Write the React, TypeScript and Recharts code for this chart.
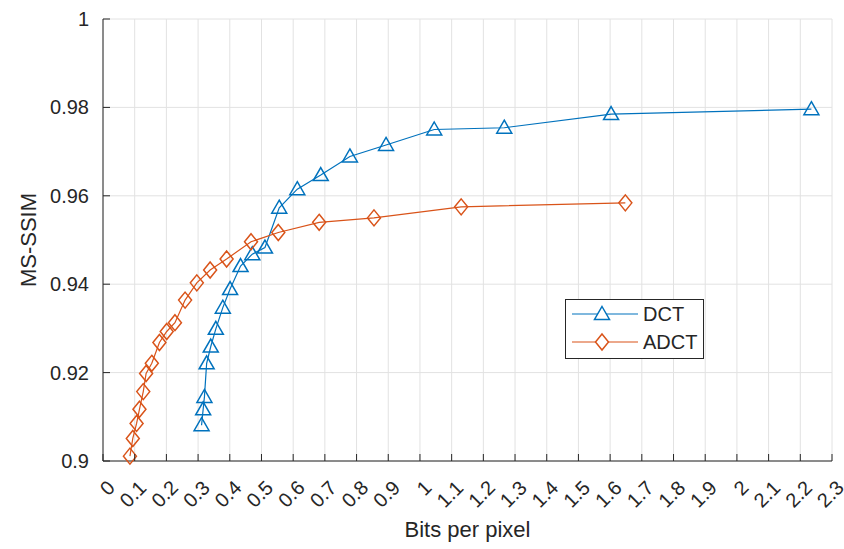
import { ScatterChart, Scatter, XAxis, YAxis, CartesianGrid, Legend } from 'recharts';

// Rate (bits per pixel) vs MS-SSIM for the two transforms
const dctRate = [0.311, 0.316, 0.32, 0.327, 0.34, 0.356, 0.378, 0.401, 0.434, 0.471, 0.511, 0.556, 0.613, 0.687, 0.779, 0.893, 1.045, 1.266, 1.603, 2.235];
const dctScore = [0.9081, 0.9117, 0.9145, 0.9221, 0.9259, 0.9299, 0.9347, 0.9389, 0.9441, 0.9468, 0.9483, 0.9573, 0.9615, 0.9647, 0.9689, 0.9715, 0.975, 0.9754, 0.9785, 0.9796];

const adctRate = [0.085, 0.094, 0.106, 0.115, 0.127, 0.136, 0.154, 0.178, 0.201, 0.227, 0.259, 0.296, 0.338, 0.39, 0.467, 0.553, 0.682, 0.855, 1.13, 1.648];
const adctScore = [0.9011, 0.9051, 0.9085, 0.9117, 0.9157, 0.9198, 0.9221, 0.9268, 0.9293, 0.9313, 0.9364, 0.9403, 0.9432, 0.9457, 0.9496, 0.9517, 0.954, 0.955, 0.9575, 0.9584];

const xTicks = [0, 0.1, 0.2, 0.3, 0.4, 0.5, 0.6, 0.7, 0.8, 0.9, 1, 1.1, 1.2, 1.3, 1.4, 1.5, 1.6, 1.7, 1.8, 1.9, 2, 2.1, 2.2, 2.3];
const yTicks = [0.9, 0.92, 0.94, 0.96, 0.98, 1];

const BLUE = '#0072BD';
const ORANGE = '#D95319';
const INK = '#262626';
const FONT = '"Liberation Sans", Arial, sans-serif';

const dctData = dctRate.map((x, i) => ({ x, y: dctScore[i] }));
const adctData = adctRate.map((x, i) => ({ x, y: adctScore[i] }));

const trianglePts = (cx: number, cy: number) =>
  `${cx},${cy - 7.5} ${cx + 7.5},${cy + 5.5} ${cx - 7.5},${cy + 5.5}`;
const diamondPts = (cx: number, cy: number) =>
  `${cx},${cy - 8} ${cx + 6.5},${cy} ${cx},${cy + 8} ${cx - 6.5},${cy}`;

const Triangle = (props: any) => (
  <polygon points={trianglePts(props.cx, props.cy)} fill="none" stroke={BLUE} strokeWidth={1.5} />
);
const Diamond = (props: any) => (
  <polygon points={diamondPts(props.cx, props.cy)} fill="none" stroke={ORANGE} strokeWidth={1.5} />
);

const series = [
  { name: 'DCT', color: BLUE, pts: trianglePts },
  { name: 'ADCT', color: ORANGE, pts: diamondPts },
];

// inward tick marks + rotated labels, MATLAB style
const XTick = ({ x, y, payload }: any) => {
  const ax = x + 13;
  const ay = y + 28;
  return (
    <g>
      <line x1={x} y1={y} x2={x} y2={y - 7} stroke={INK} />
      <text
        x={ax}
        y={ay}
        transform={`rotate(-45 ${ax} ${ay})`}
        textAnchor="end"
        fontSize={20}
        fontFamily={FONT}
        fill={INK}
      >
        {String(payload.value)}
      </text>
    </g>
  );
};

const YTick = ({ x, y, payload }: any) => (
  <g>
    <line x1={x} y1={y} x2={x + 7} y2={y} stroke={INK} />
    <text x={x - 14} y={y} dy={7} textAnchor="end" fontSize={20} fontFamily={FONT} fill={INK}>
      {String(payload.value)}
    </text>
  </g>
);

const LegendBox = () => (
  <div style={{ width: 139, height: 60, border: `1px solid ${INK}`, background: '#fff', boxSizing: 'border-box' }}>
    <svg width={137} height={58} style={{ display: 'block' }}>
      {series.map((s, i) => {
        const cy = 14 + i * 28;
        return (
          <g key={s.name}>
            <line x1={6} y1={cy} x2={72} y2={cy} stroke={s.color} strokeWidth={1.2} />
            <polygon points={s.pts(36, cy)} fill="#fff" stroke={s.color} strokeWidth={1.5} />
            <text x={77} y={cy + 7} fontSize={20} fontFamily={FONT} fill={INK}>
              {s.name}
            </text>
          </g>
        );
      })}
    </svg>
  </div>
);

export default function App() {
  return (
    <div style={{ position: 'absolute', left: 0, top: 0, background: '#fff' }}>
      <ScatterChart width={844} height={549} margin={{ top: 19, right: 12, bottom: 0, left: 0 }}>
        <CartesianGrid stroke="#e2e2e2" />
        <XAxis
          type="number"
          dataKey="x"
          domain={[0, 2.3]}
          ticks={xTicks}
          interval={0}
          height={88}
          tickSize={0}
          tickMargin={0}
          tickLine={false}
          tick={<XTick />}
          axisLine={{ stroke: INK }}
          label={{ value: 'Bits per pixel', position: 'insideBottom', offset: 12, fill: INK, fontSize: 22, fontFamily: FONT }}
        />
        <YAxis
          type="number"
          dataKey="y"
          domain={[0.9, 1]}
          ticks={yTicks}
          interval={0}
          width={103}
          tickSize={0}
          tickMargin={0}
          tickLine={false}
          tick={<YTick />}
          axisLine={{ stroke: INK }}
          label={{
            value: 'MS-SSIM',
            angle: -90,
            position: 'insideLeft',
            offset: 28,
            fill: INK,
            fontSize: 22,
            fontFamily: FONT,
            style: { textAnchor: 'middle' },
          }}
        />
        <Scatter
          name="DCT"
          data={dctData}
          line={{ stroke: BLUE, strokeWidth: 1.2 }}
          lineType="joint"
          shape={<Triangle />}
          isAnimationActive={false}
        />
        <Scatter
          name="ADCT"
          data={adctData}
          line={{ stroke: ORANGE, strokeWidth: 1.2 }}
          lineType="joint"
          shape={<Diamond />}
          isAnimationActive={false}
        />
        <Legend
          layout="horizontal"
          verticalAlign="middle"
          align="center"
          content={<LegendBox />}
          wrapperStyle={{ left: 565, top: 299, width: 139, height: 60 }}
        />
      </ScatterChart>
    </div>
  );
}
